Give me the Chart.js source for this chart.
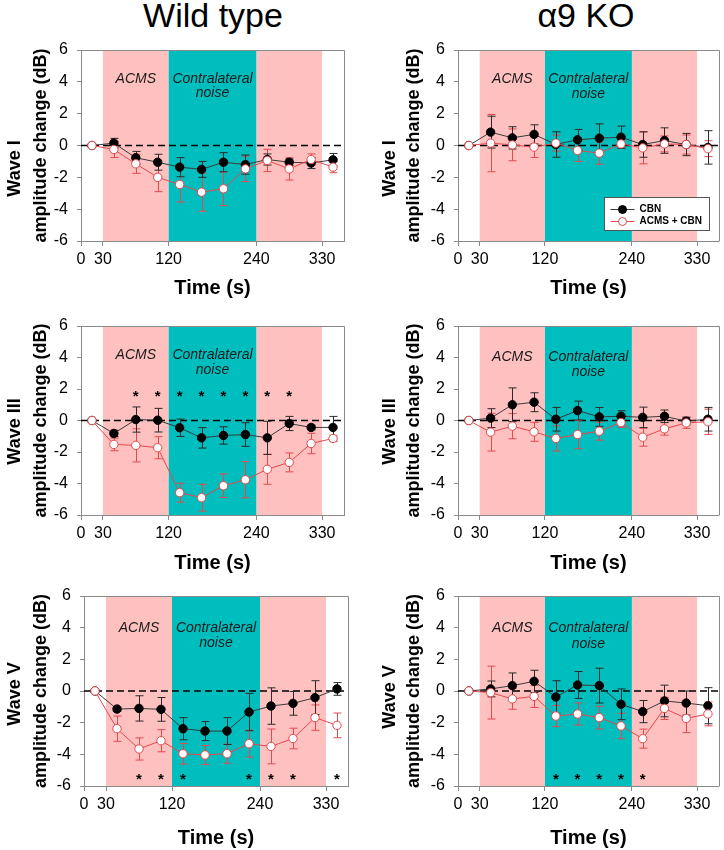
<!DOCTYPE html>
<html>
<head>
<meta charset="utf-8">
<script src="https://cdn.jsdelivr.net/npm/chart.js@4.4.0/dist/chart.umd.min.js"></script>
<style>
  html, body { margin: 0; padding: 0; background: #fff; }
  body { width: 724px; height: 850px; position: relative; overflow: hidden; font-family: "Liberation Sans", Arial, sans-serif; }
  .grp { position: absolute; top: -2px; font-size: 34px; line-height: 34px; color: #000; transform: translateX(-50%); white-space: nowrap; }
  canvas { position: absolute; }
</style>
</head>
<body>
<div class="grp" id="g0" style="left:213px"></div>
<div class="grp" id="g1" style="left:586px"></div>
<canvas id="c0" width="362" height="305" style="left:0px;top:0px"></canvas>
<canvas id="c1" width="347" height="305" style="left:377px;top:0px"></canvas>
<canvas id="c2" width="362" height="303" style="left:0px;top:276px"></canvas>
<canvas id="c3" width="347" height="303" style="left:377px;top:276px"></canvas>
<canvas id="c4" width="359" height="304" style="left:3px;top:546px"></canvas>
<canvas id="c5" width="347" height="304" style="left:377px;top:546px"></canvas>
<script>
// ---------------- data ----------------
const timePoints = [15, 45, 75, 105, 135, 165, 195, 225, 255, 285, 315, 345];
const xTickValues = [0, 30, 120, 240, 330];
const yTickValues = [-6, -4, -2, 0, 2, 4, 6];
const groupTitles = ['Wild type', 'α9 KO'];
const waveNames = ['Wave I', 'Wave III', 'Wave V'];
const seriesNames = ['CBN', 'ACMS + CBN'];
const acmsWindows = [[30, 120], [240, 330]];
const noiseWindow = [120, 240];
const windowLabels = ['ACMS', 'Contralateral', 'noise'];

// Wild type, Wave I
const wtI_cbn      = [0, 0.15, -0.77, -1.05, -1.36, -1.50, -1.05, -1.20, -0.88, -1.05, -1.10, -0.90];
const wtI_cbnErr   = [0, 0.30, 0.40, 0.50, 0.60, 0.50, 0.60, 0.60, 0.35, 0.20, 0.35, 0.40];
const wtI_acms     = [0, -0.25, -1.15, -2.00, -2.45, -2.93, -2.72, -1.47, -0.94, -1.47, -0.88, -1.36];
const wtI_acmsErr  = [0, 0.50, 0.60, 0.90, 1.10, 1.20, 1.05, 0.80, 0.70, 0.70, 0.35, 0.35];
// α9 KO, Wave I
const koI_cbn      = [0, 0.84, 0.48, 0.70, 0.06, 0.36, 0.46, 0.52, 0.06, 0.31, 0.06, -0.12];
const koI_cbnErr   = [0, 1.00, 0.70, 0.60, 0.80, 0.65, 0.90, 0.70, 0.80, 0.80, 0.70, 1.05];
const koI_acms     = [0, 0.15, 0.04, -0.10, 0.15, -0.31, -0.48, 0.10, -0.15, 0.10, 0.06, -0.20];
const koI_acmsErr  = [0, 1.80, 1.00, 0.65, 0.50, 0.70, 0.70, 0.25, 1.00, 0.50, 0.60, 0.50];
// Wild type, Wave III
const wtIII_cbn     = [0, -0.82, 0.06, 0.02, -0.46, -1.10, -0.95, -0.89, -1.10, -0.19, -0.44, -0.44];
const wtIII_cbnErr  = [0, 0.20, 0.80, 0.75, 0.55, 0.65, 0.55, 0.75, 1.05, 0.45, 0.15, 0.70];
const wtIII_acms    = [0, -1.52, -1.58, -1.73, -4.58, -4.90, -4.14, -3.76, -3.10, -2.66, -1.46, -1.14];
const wtIII_acmsErr = [0, 0.40, 1.05, 0.70, 0.60, 0.85, 0.75, 1.15, 0.95, 0.60, 0.65, 0.20];
// α9 KO, Wave III
const koIII_cbn     = [0, 0.15, 1.00, 1.16, 0.08, 0.63, 0.23, 0.27, 0.20, 0.27, -0.04, 0.08];
const koIII_cbnErr  = [0, 0.60, 1.07, 0.60, 0.75, 0.60, 0.60, 0.35, 0.65, 0.40, 0.25, 0.75];
const koIII_acms    = [0, -0.74, -0.36, -0.72, -1.14, -0.89, -0.68, -0.13, -1.06, -0.53, -0.15, -0.08];
const koIII_acmsErr = [0, 1.20, 0.80, 0.60, 0.80, 0.90, 0.57, 0.30, 0.57, 0.40, 0.35, 0.80];
// Wild type, Wave V
const wtV_cbn      = [0, -1.14, -1.10, -1.16, -2.38, -2.53, -2.53, -1.33, -0.95, -0.78, -0.42, 0.13];
const wtV_cbnErr   = [0, 0.12, 0.80, 0.75, 0.70, 0.60, 0.85, 1.18, 1.15, 0.75, 1.07, 0.40];
const wtV_acms     = [0, -2.38, -3.66, -3.14, -3.96, -4.04, -3.96, -3.33, -3.50, -3.00, -1.68, -2.17];
const wtV_acmsErr  = [0, 0.80, 0.70, 0.70, 0.65, 0.60, 0.60, 0.85, 1.10, 0.65, 0.80, 0.78];
// α9 KO, Wave V
const koV_cbn      = [0, 0.13, 0.34, 0.61, -0.38, 0.38, 0.34, -0.84, -1.30, -0.63, -0.76, -0.93];
const koV_cbnErr   = [0, 0.50, 0.80, 0.70, 1.03, 0.85, 1.10, 0.97, 0.70, 1.00, 0.76, 1.14];
const koV_acms     = [0, -0.10, -0.50, -0.34, -1.58, -1.45, -1.68, -2.21, -3.01, -1.10, -1.73, -1.45];
const koV_acmsErr  = [0, 1.67, 0.65, 0.70, 0.67, 0.70, 0.72, 0.80, 0.60, 0.70, 0.90, 0.75];

// significance markers (time points with *)
const wtIII_sigTimes = [75, 105, 135, 165, 195, 225, 255, 285];
const wtV_sigTimes   = [75, 105, 135, 225, 255, 285, 345];
const koV_sigTimes   = [135, 165, 195, 225, 255];

// ---------------- styling / layout ----------------
const FONT = '"Liberation Sans", Arial, sans-serif';
const PINK = 'rgb(255,192,192)';
const TEAL = 'rgb(0,190,190)';
const RED = '#E5484D';
const BLACKLINE = '#3a3a3a';
const FRAME = '#8a8a8a';

document.getElementById('g0').textContent = groupTitles[0];
document.getElementById('g1').textContent = groupTitles[1];

const panels = [
  { id: 'c0', wave: 0, cbn: wtI_cbn, cbnErr: wtI_cbnErr, acms: wtI_acms, acmsErr: wtI_acmsErr, sig: [], sigY: 0,
    padR: 18, waveX: 15, waveDy: 23, titlePad: 30, xTitlePad: 5, lblY: [4.17, 4.17, 3.28], legend: false },
  { id: 'c1', wave: 0, cbn: koI_cbn, cbnErr: koI_cbnErr, acms: koI_acms, acmsErr: koI_acmsErr, sig: [], sigY: 0,
    padR: 4, waveX: 13, waveDy: 23, titlePad: 26, xTitlePad: 5, lblY: [4.15, 4.15, 3.22], legend: true },
  { id: 'c2', wave: 1, cbn: wtIII_cbn, cbnErr: wtIII_cbnErr, acms: wtIII_acms, acmsErr: wtIII_acmsErr, sig: wtIII_sigTimes, sigY: 1.8,
    padR: 18, waveX: 15, waveDy: 11, titlePad: 30, xTitlePad: 4, lblY: [4.18, 4.18, 3.23], legend: false },
  { id: 'c3', wave: 1, cbn: koIII_cbn, cbnErr: koIII_cbnErr, acms: koIII_acms, acmsErr: koIII_acmsErr, sig: [], sigY: 0,
    padR: 4, waveX: 13, waveDy: 11, titlePad: 26, xTitlePad: 4, lblY: [4.03, 4.03, 3.08], legend: false },
  { id: 'c4', wave: 2, cbn: wtV_cbn, cbnErr: wtV_cbnErr, acms: wtV_acms, acmsErr: wtV_acmsErr, sig: wtV_sigTimes, sigY: -5.3,
    padR: 14, waveX: 12, waveDy: 3, titlePad: 27, xTitlePad: 0, lblY: [3.98, 3.98, 3.05], legend: false },
  { id: 'c5', wave: 2, cbn: koV_cbn, cbnErr: koV_cbnErr, acms: koV_acms, acmsErr: koV_acmsErr, sig: koV_sigTimes, sigY: -5.3,
    padR: 4, waveX: 13, waveDy: 6, titlePad: 26, xTitlePad: 0, lblY: [3.98, 3.98, 2.97], legend: false }
];

function toXY(vals) { return timePoints.map((t, i) => ({ x: t, y: vals[i] })); }

function makeDecor(p) {
  return {
    id: 'decor_' + p.id,
    beforeDraw(chart) {
      const { ctx, chartArea: a, scales: { x } } = chart;
      ctx.save();
      const shade = (from, to, color) => {
        const x0 = x.getPixelForValue(from), x1 = x.getPixelForValue(to);
        ctx.fillStyle = color;
        ctx.fillRect(x0, a.top, x1 - x0, a.bottom - a.top);
      };
      acmsWindows.forEach(w => shade(w[0], w[1], PINK));
      shade(noiseWindow[0], noiseWindow[1], TEAL);
      ctx.restore();
    },
    beforeDatasetsDraw(chart) {
      const { ctx, chartArea: a, scales: { x, y } } = chart;
      ctx.save();
      // frame top / right
      ctx.strokeStyle = FRAME; ctx.lineWidth = 1;
      ctx.beginPath();
      ctx.moveTo(Math.round(a.left) + 0.5, Math.round(a.top) + 0.5);
      ctx.lineTo(Math.round(a.right) + 0.5, Math.round(a.top) + 0.5);
      ctx.lineTo(Math.round(a.right) + 0.5, Math.round(a.bottom) + 0.5);
      ctx.stroke();
      // window labels
      ctx.fillStyle = '#1a1a1a';
      ctx.font = 'italic 14px ' + FONT;
      ctx.textAlign = 'center'; ctx.textBaseline = 'middle';
      ctx.fillText(windowLabels[0], x.getPixelForValue((acmsWindows[0][0] + acmsWindows[0][1]) / 2), y.getPixelForValue(p.lblY[0]));
      const nx = x.getPixelForValue((noiseWindow[0] + noiseWindow[1]) / 2);
      ctx.fillText(windowLabels[1], nx, y.getPixelForValue(p.lblY[1]));
      ctx.fillText(windowLabels[2], nx, y.getPixelForValue(p.lblY[2]));
      // zero dashed line
      ctx.strokeStyle = '#000'; ctx.lineWidth = 1.3; ctx.setLineDash([7, 4]);
      const y0 = y.getPixelForValue(0);
      ctx.beginPath(); ctx.moveTo(a.left, y0); ctx.lineTo(a.right, y0); ctx.stroke();
      ctx.setLineDash([]);
      // error bars
      const bars = (vals, errs, color) => {
        ctx.strokeStyle = color; ctx.lineWidth = 1;
        timePoints.forEach((t, i) => {
          if (!errs[i]) return;
          const px = Math.round(x.getPixelForValue(t)) + 0.5;
          const yt = y.getPixelForValue(vals[i] + errs[i]);
          const yb = y.getPixelForValue(vals[i] - errs[i]);
          ctx.beginPath();
          ctx.moveTo(px, yt); ctx.lineTo(px, yb);
          ctx.moveTo(px - 4, yt); ctx.lineTo(px + 4, yt);
          ctx.moveTo(px - 4, yb); ctx.lineTo(px + 4, yb);
          ctx.stroke();
        });
      };
      bars(p.acms, p.acmsErr, RED);
      bars(p.cbn, p.cbnErr, '#2a2a2a');
      ctx.restore();
    },
    afterDatasetsDraw(chart) {
      const { ctx, chartArea: a, scales: { x, y } } = chart;
      ctx.save();
      // significance asterisks
      ctx.fillStyle = '#000';
      ctx.font = 'bold 15px ' + FONT;
      ctx.textAlign = 'center'; ctx.textBaseline = 'alphabetic';
      p.sig.forEach(t => {
        ctx.fillText('*', x.getPixelForValue(t), y.getPixelForValue(p.sigY) + 0.58 * 15);
      });
      // legend
      if (p.legend) {
        const bw = 105, bh = 33;
        const bx = Math.round(a.right - 10 - bw) + 0.5, by = Math.round(a.bottom - 11 - bh) + 0.5;
        ctx.fillStyle = '#fff'; ctx.fillRect(bx, by, bw, bh);
        ctx.strokeStyle = '#555'; ctx.lineWidth = 1; ctx.strokeRect(bx, by, bw, bh);
        const rows = [
          { name: seriesNames[0], line: BLACKLINE, fill: '#000', stroke: '#000', dy: 12 },
          { name: seriesNames[1], line: RED, fill: '#fff', stroke: RED, dy: 24 }
        ];
        rows.forEach(r => {
          const ly = by + r.dy;
          ctx.strokeStyle = r.line; ctx.lineWidth = 1;
          ctx.beginPath(); ctx.moveTo(bx + 6, ly); ctx.lineTo(bx + 30, ly); ctx.stroke();
          ctx.beginPath(); ctx.arc(bx + 18, ly, 4, 0, Math.PI * 2);
          ctx.fillStyle = r.fill; ctx.fill(); ctx.strokeStyle = r.stroke; ctx.stroke();
          ctx.fillStyle = '#000'; ctx.font = 'bold 10px ' + FONT;
          ctx.textAlign = 'left'; ctx.textBaseline = 'middle';
          ctx.fillText(r.name, bx + 35, ly);
        });
      }
      ctx.restore();
    },
    afterDraw(chart) {
      const { ctx, chartArea: a } = chart;
      ctx.save();
      ctx.translate(p.waveX, (a.top + a.bottom) / 2 + p.waveDy);
      ctx.rotate(-Math.PI / 2);
      ctx.fillStyle = '#000';
      ctx.font = 'bold 18px ' + FONT;
      ctx.textAlign = 'center'; ctx.textBaseline = 'middle';
      ctx.fillText(waveNames[p.wave], 0, 0);
      ctx.restore();
    }
  };
}

panels.forEach(p => {
  new Chart(document.getElementById(p.id), {
    type: 'line',
    data: {
      datasets: [
        { label: seriesNames[1], data: toXY(p.acms), order: 0,
          borderColor: RED, borderWidth: 1, backgroundColor: '#fff',
          pointBackgroundColor: '#fff', pointBorderColor: RED, pointBorderWidth: 1, pointRadius: 4.2 },
        { label: seriesNames[0], data: toXY(p.cbn), order: 1,
          borderColor: BLACKLINE, borderWidth: 1, backgroundColor: '#000',
          pointBackgroundColor: '#000', pointBorderColor: '#000', pointBorderWidth: 1, pointRadius: 4.2 }
      ]
    },
    options: {
      responsive: false,
      animation: false,
      events: [],
      layout: { padding: { top: 50, left: 0, right: p.padR, bottom: 0 } },
      plugins: { legend: { display: false }, tooltip: { enabled: false } },
      scales: {
        x: {
          type: 'linear', min: 0, max: 360,
          afterBuildTicks: s => { s.ticks = xTickValues.map(v => ({ value: v })); },
          afterFit: s => { s.height = 64; },
          ticks: { font: { size: 16, family: FONT }, color: '#000', padding: 4, maxRotation: 0, autoSkip: false,
                   callback: v => String(v) },
          grid: { drawOnChartArea: false, drawTicks: true, tickLength: 5, color: FRAME },
          border: { display: true, color: FRAME, width: 1 },
          title: { display: true, text: 'Time (s)', color: '#000',
                   font: { size: 20, weight: 'bold', family: FONT, lineHeight: 1.2 },
                   padding: { top: 0, bottom: p.xTitlePad } }
        },
        y: {
          type: 'linear', min: -6, max: 6,
          afterBuildTicks: s => { s.ticks = yTickValues.map(v => ({ value: v })); },
          afterFit: s => { s.width = 81; },
          ticks: { font: { size: 16, family: FONT }, color: '#000', padding: 9, callback: v => String(v) },
          grid: { drawOnChartArea: false, drawTicks: true, tickLength: 4, color: FRAME },
          border: { display: true, color: FRAME, width: 1 },
          title: { display: true, text: 'amplitude change (dB)', color: '#000',
                   font: { size: 18, weight: 'bold', family: FONT, lineHeight: 1.2 },
                   padding: { top: p.titlePad, bottom: 0 } }
        }
      }
    },
    plugins: [makeDecor(p)]
  });
});
</script>
</body>
</html>
